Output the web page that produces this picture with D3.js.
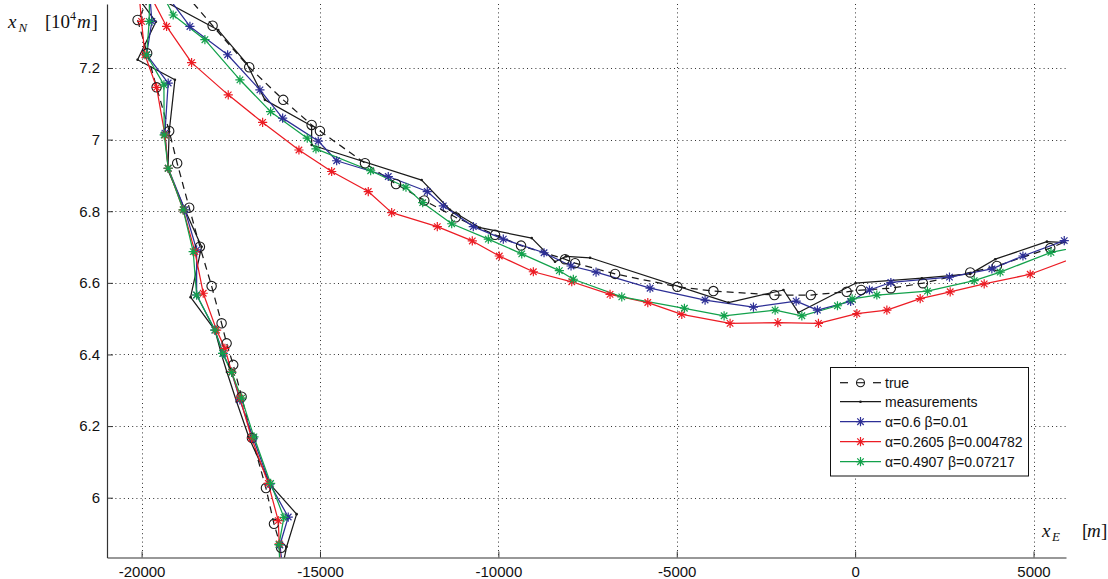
<!DOCTYPE html>
<html><head><meta charset="utf-8">
<script src="https://cdn.jsdelivr.net/npm/d3@7"></script>
<style>html,body{margin:0;padding:0;background:#fff;} svg{display:block;}</style>
</head><body><svg id="chart" width="1108" height="579"></svg>
<script>
// ---- axis ticks ----
const xTicks = [-20000,-15000,-10000,-5000,0,5000];
const xTickLabels = ["-20000","-15000","-10000","-5000","0","5000"];
const yTicks = [6,6.2,6.4,6.6,6.8,7,7.2];
const yTickLabels = ["6","6.2","6.4","6.6","6.8","7","7.2"];

// ---- series (xE in m, xN in 10^4 m) ----
const trueE = [-16090,-16290,-16515,-16908,-17197,-17432,-17617,-17758,-18038,-18366,-18666,-19003,-19227,-19580,-19844,-20113,-19347,-18010,-16984,-16030,-15234,-15001,-13739,-12870,-12077,-11196,-10094,-9365,-8131,-7851,-6729,-4983,-3973,-2263,-1242,-238,168,1001,1898,3225,3973,5468,6085];
const trueN = [5.860,5.927,6.027,6.167,6.282,6.371,6.431,6.487,6.591,6.701,6.810,6.934,7.024,7.146,7.241,7.334,7.474,7.318,7.202,7.111,7.041,7.024,6.934,6.876,6.830,6.783,6.734,6.704,6.666,6.655,6.625,6.589,6.577,6.566,6.566,6.575,6.580,6.585,6.599,6.629,6.647,6.697,6.723];

const measE = [-16025,-15935,-15655,-16403,-16984,-17337,-17609,-17758,-17945,-18627,-18318,-18787,-19263,-19227,-19067,-20113,-19600,-20469,-17853,-17057,-16543,-15234,-15234,-12150,-11356,-10515,-9065,-8412,-8103,-7430,-3552,-2010,-1590,9,1870,3225,3926,5375,6169];
const measN = [5.820,5.863,5.954,6.038,6.166,6.268,6.351,6.399,6.468,6.560,6.701,6.804,6.915,7.022,7.167,7.223,7.329,7.446,7.306,7.213,7.111,7.038,6.985,6.887,6.804,6.754,6.725,6.659,6.674,6.670,6.545,6.580,6.517,6.599,6.613,6.625,6.666,6.715,6.711];

const blueE = [-16053,-16123,-15890,-16403,-16871,-17244,-17477,-17713,-17945,-18458,-18458,-18787,-19255,-19347,-19255,-19860,-19712,-19824,-18646,-17589,-16684,-16047,-15049,-14533,-13086,-11993,-11544,-10703,-9862,-8720,-7963,-7262,-5748,-4206,-2851,-1654,-1057,-126,401,1001,2644,3833,4703,5861];
const blueN = [5.809,5.868,5.946,6.038,6.166,6.273,6.350,6.403,6.468,6.566,6.692,6.804,6.920,7.018,7.158,7.237,7.330,7.474,7.316,7.237,7.139,7.060,6.996,6.941,6.897,6.855,6.815,6.757,6.722,6.684,6.647,6.630,6.585,6.552,6.532,6.549,6.524,6.548,6.580,6.601,6.616,6.639,6.675,6.718];

const redE = [-16109,-16142,-16170,-16451,-16916,-17244,-17477,-17665,-17898,-18273,-18506,-18834,-19255,-19347,-19580,-19908,-20001,-20133,-19300,-18599,-17572,-16608,-15590,-14673,-13647,-12991,-11712,-10731,-9974,-9020,-7943,-6870,-5812,-4859,-3505,-2167,-1029,48,889,1823,2664,3617,4907,6197];
const redN = [5.809,5.871,5.936,6.040,6.166,6.278,6.351,6.417,6.468,6.571,6.687,6.804,6.920,7.013,7.146,7.237,7.330,7.474,7.316,7.215,7.125,7.048,6.971,6.911,6.855,6.796,6.757,6.717,6.675,6.631,6.603,6.568,6.545,6.512,6.487,6.489,6.487,6.514,6.524,6.556,6.575,6.597,6.624,6.672];

const greenE = [-16123,-16151,-16011,-16384,-16852,-17197,-17477,-17730,-17945,-18458,-18554,-18834,-19255,-19367,-19375,-19860,-19788,-19768,-19115,-18226,-17244,-16384,-15357,-15113,-13580,-12590,-12121,-11308,-10282,-9345,-8291,-7899,-6541,-4786,-3673,-2243,-1494,-496,-84,608,2027,3337,4066,5488,6197];
const greenN = [5.809,5.869,5.945,6.040,6.170,6.278,6.350,6.403,6.468,6.566,6.687,6.804,6.920,7.013,7.153,7.237,7.330,7.474,7.348,7.279,7.167,7.078,7.004,6.974,6.913,6.867,6.824,6.765,6.722,6.681,6.634,6.610,6.561,6.529,6.508,6.524,6.508,6.536,6.555,6.566,6.577,6.606,6.630,6.685,6.699];

const legendLabels = ["true","measurements","\u03b1=0.6 \u03b2=0.01","\u03b1=0.2605 \u03b2=0.004782","\u03b1=0.4907 \u03b2=0.07217"];

// ---- layout ----
const L = 107, R = 1066, T = 4, B = 557.5;
const xDomain = [-20970, 5910];
const yDomain = [5.833, 7.3787];

const svg = d3.select("#chart");
const x = d3.scaleLinear().domain(xDomain).range([L, R]);
const y = d3.scaleLinear().domain(yDomain).range([B, T]);

const FONT = "'Liberation Sans', Arial, Helvetica, sans-serif";
const SERIF = "'Liberation Serif', 'DejaVu Serif', serif";

svg.append("rect").attr("width",1108).attr("height",579).attr("fill","#fff");

svg.append("defs").append("clipPath").attr("id","plotclip")
  .append("rect").attr("x",L).attr("y",T).attr("width",R-L).attr("height",B-T);

// grid
const grid = svg.append("g").attr("stroke","#333").attr("stroke-width",1).attr("stroke-dasharray","1,3.2");
grid.selectAll("line.gx").data(xTicks).join("line")
  .attr("x1",d=>Math.round(x(d))+0.5).attr("x2",d=>Math.round(x(d))+0.5)
  .attr("y1",T).attr("y2",B);
grid.selectAll("line.gy").data(yTicks).join("line")
  .attr("y1",d=>Math.round(y(d))+0.5).attr("y2",d=>Math.round(y(d))+0.5)
  .attr("x1",L).attr("x2",R);

// axes
const xAxis = d3.axisBottom(x).tickValues(xTicks).tickFormat((d,i)=>xTickLabels[i]).tickSizeInner(-6).tickSizeOuter(0).tickPadding(9);
const yAxis = d3.axisLeft(y).tickValues(yTicks).tickFormat((d,i)=>yTickLabels[i]).tickSizeInner(-6).tickSizeOuter(0).tickPadding(7);
const gx = svg.append("g").attr("transform",`translate(0,${B})`).call(xAxis);
const gy = svg.append("g").attr("transform",`translate(${L},0)`).call(yAxis);
[gx,gy].forEach(g=>{
  g.select(".domain").attr("stroke","#333").attr("stroke-width",1.2);
  g.selectAll(".tick line").attr("stroke","#333").attr("stroke-width",1);
  g.selectAll(".tick text").attr("fill","#111").style("font-family",FONT).style("font-size","15px");
});

// series
const line = d3.line().x(d=>x(d[0])).y(d=>y(d[1]));
const zip = (a,b)=>a.map((v,i)=>[v,b[i]]);
const inside = d=> d[0]>=xDomain[0] && d[0]<=xDomain[1] && d[1]>=yDomain[0] && d[1]<=yDomain[1];
const starPath = (cx,cy,s)=>{const d=s*0.7071;
  return `M${cx-s},${cy}L${cx+s},${cy}M${cx},${cy-s}L${cx},${cy+s}M${cx-d},${cy-d}L${cx+d},${cy+d}M${cx-d},${cy+d}L${cx+d},${cy-d}`;};

const plot = svg.append("g");
const lines = plot.append("g").attr("clip-path","url(#plotclip)");

const series = [
  {data: zip(trueE,trueN), color:"#1a1a1a", dash:"7,5", marker:"circle"},
  {data: zip(measE,measN), color:"#1a1a1a", dash:null, marker:"dot"},
  {data: zip(blueE,blueN), color:"#2d2f96", dash:null, marker:"star"},
  {data: zip(redE,redN), color:"#ec1c24", dash:null, marker:"star"},
  {data: zip(greenE,greenN), color:"#12a14b", dash:null, marker:"star"}
];

series.forEach(s=>{
  lines.append("path").attr("d",line(s.data)).attr("fill","none")
    .attr("stroke",s.color).attr("stroke-width",1.25)
    .attr("stroke-dasharray",s.dash).attr("stroke-linejoin","round");
  const pts = s.data.filter(inside);
  const mg = plot.append("g");
  if (s.marker==="circle") {
    mg.selectAll("circle").data(pts).join("circle")
      .attr("cx",d=>x(d[0])).attr("cy",d=>y(d[1])).attr("r",4.7)
      .attr("fill","none").attr("stroke",s.color).attr("stroke-width",1.1);
  } else if (s.marker==="dot") {
    mg.selectAll("circle").data(pts).join("circle")
      .attr("cx",d=>x(d[0])).attr("cy",d=>y(d[1])).attr("r",1.3)
      .attr("fill",s.color);
  } else {
    mg.selectAll("path").data(pts).join("path")
      .attr("d",d=>starPath(x(d[0]),y(d[1]),4.6))
      .attr("fill","none").attr("stroke",s.color).attr("stroke-width",1.2);
  }
});

// legend
const lg = svg.append("g");
lg.append("rect").attr("x",830.5).attr("y",367.5).attr("width",198).attr("height",108.5)
  .attr("fill","#fff").attr("stroke","#111").attr("stroke-width",1);
const rowY = [382.7, 401.7, 421.7, 441.7, 461.7];
const lx1 = 840, lx2 = 881, lxm = 860.5;
series.forEach((s,i)=>{
  const yy = rowY[i];
  if (s.marker==="circle") {
    lg.append("line").attr("x1",lx1).attr("x2",lx1+8).attr("y1",yy).attr("y2",yy).attr("stroke",s.color).attr("stroke-width",1.25);
    lg.append("line").attr("x1",lx2-8).attr("x2",lx2).attr("y1",yy).attr("y2",yy).attr("stroke",s.color).attr("stroke-width",1.25);
    lg.append("circle").attr("cx",lxm).attr("cy",yy).attr("r",4).attr("fill","none").attr("stroke",s.color).attr("stroke-width",1.1);
    lg.append("line").attr("x1",lxm-4).attr("x2",lxm+4).attr("y1",yy).attr("y2",yy).attr("stroke",s.color).attr("stroke-width",1.1);
  } else {
    lg.append("line").attr("x1",lx1).attr("x2",lx2).attr("y1",yy).attr("y2",yy).attr("stroke",s.color).attr("stroke-width",1.25);
    if (s.marker==="dot") lg.append("circle").attr("cx",lxm).attr("cy",yy).attr("r",1.3).attr("fill",s.color);
    else lg.append("path").attr("d",starPath(lxm,yy,4.6)).attr("fill","none").attr("stroke",s.color).attr("stroke-width",1.2);
  }
  lg.append("text").attr("x",885).attr("y",yy).attr("dy","0.35em")
    .style("font-family",FONT).style("font-size","14px").attr("fill","#111").text(legendLabels[i]);
});

// axis labels (math style)
const yl = svg.append("text").attr("y",28).style("font-family",SERIF).style("font-size","19px").attr("fill","#111");
yl.append("tspan").attr("x",8).style("font-style","italic").text("x");
yl.append("tspan").attr("x",18.5).attr("dy",4).style("font-style","italic").style("font-size","13px").text("N");
yl.append("tspan").attr("x",45).attr("dy",-4).text("[");
yl.append("tspan").attr("x",51).text("10");
yl.append("tspan").attr("x",70).attr("dy",-8).style("font-size","12px").text("4");
yl.append("tspan").attr("x",77).attr("dy",8).style("font-style","italic").text("m");
yl.append("tspan").attr("x",91.5).text("]");

const xl = svg.append("text").attr("y",537).style("font-family",SERIF).style("font-size","19px").attr("fill","#111");
xl.append("tspan").attr("x",1042).style("font-style","italic").text("x");
xl.append("tspan").attr("x",1052).attr("dy",4).style("font-style","italic").style("font-size","13px").text("E");
xl.append("tspan").attr("x",1082).attr("dy",-4).text("[");
xl.append("tspan").attr("x",1087).style("font-style","italic").text("m");
xl.append("tspan").attr("x",1101).text("]");
</script></body></html>
